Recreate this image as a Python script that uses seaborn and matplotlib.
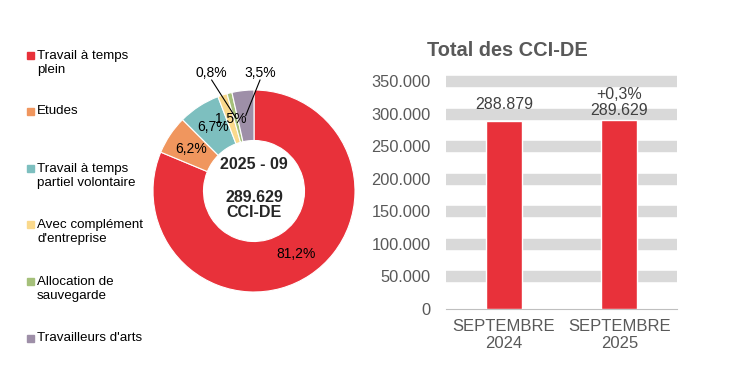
import matplotlib
matplotlib.use("Agg")
import matplotlib.pyplot as plt
import seaborn as sns
import pandas as pd
import numpy as np

# ---- data ----
categories = ["Travail à temps\nplein", "Etudes", "Travail à temps\npartiel volontaire",
              "Avec complément\nd'entreprise", "Allocation de\nsauvegarde", "Travailleurs d'arts"]
shares = [81.2, 6.2, 6.7, 1.5, 0.8, 3.5]
share_labels = ["81,2%", "6,2%", "6,7%", "1,5%", "0,8%", "3,5%"]
colors = ["#E8313A", "#F0965E", "#7DBFBF", "#FAD98C", "#A5C07A", "#9E8FA8"]
center_title = "2025 - 09"
center_total = "289.629\nCCI-DE"

periods = ["SEPTEMBRE\n2024", "SEPTEMBRE\n2025"]
totals = [288879, 289629]
total_labels = ["288.879", "+0,3%\n289.629"]
y_ticks = [0, 50000, 100000, 150000, 200000, 250000, 300000, 350000]
y_tick_labels = ["0", "50.000", "100.000", "150.000", "200.000", "250.000", "300.000", "350.000"]

sns.set_theme(style="white")
plt.rcParams['font.family'] = ['Liberation Sans', 'DejaVu Sans']

W, H = 737, 387
fig = plt.figure(figsize=(W / 100, H / 100), dpi=100)
fig.patch.set_facecolor("white")

# ---- donut ----
cx, cy, r = 254, 191, 101
ax_p = fig.add_axes([(cx - r) / W, (H - cy - r) / H, 2 * r / W, 2 * r / H])
wedges, _ = ax_p.pie(shares, colors=colors, startangle=90, counterclock=False,
                     radius=1.0, wedgeprops=dict(width=0.5, edgecolor="white", linewidth=0.8))
ax_p.set_xlim(-1, 1)
ax_p.set_ylim(-1, 1)
ax_p.set_aspect("equal")
ax_p.axis("off")

inside = [0, 1, 2, 3]
outside_text = {4: (-0.42, 1.17), 5: (0.06, 1.17)}
for i, w in enumerate(wedges):
    ang = np.deg2rad((w.theta1 + w.theta2) / 2)
    px, py = 0.75 * np.cos(ang), 0.75 * np.sin(ang)
    if i in inside:
        ax_p.text(px, py, share_labels[i], ha="center", va="center", fontsize=10, color="#000000")
    else:
        tx, ty = outside_text[i]
        ax_p.text(tx, ty, share_labels[i], ha="center", va="center", fontsize=10,
                  color="#000000", clip_on=False)
        ax_p.plot([tx, px], [ty - 0.07, py], color="black", lw=0.8, clip_on=False)

ax_p.text(0, 0.267, center_title, ha="center", va="center", fontsize=11.5, fontweight="bold")
ax_p.text(0, -0.14, center_total, ha="center", va="center", fontsize=11.5, fontweight="bold",
          linespacing=1.05)

# ---- legend ----
leg_y = [55, 111, 168, 224, 281, 338]
for lab, col, y in zip(categories, colors, leg_y):
    n = lab.count("\n") + 1
    fig.patches.append(plt.Rectangle((27 / W, (H - y - 3.5) / H), 7 / W, 7 / H,
                                     transform=fig.transFigure, color=col, figure=fig))
    yc = y + (n - 1) * 15.5 / 2
    fig.text(37 / W, (H - yc) / H, lab, ha="left", va="center", fontsize=9.6,
             color="#000000", linespacing=1.18)

# ---- bar chart ----
left, right, y0, y350 = 446, 677, 309, 81
ymax = 360000
ppu = (y0 - y350) / 350000
top = y0 - ymax * ppu
ax_b = fig.add_axes([left / W, (H - y0) / H, (right - left) / W, (y0 - top) / H])
df = pd.DataFrame({"period": periods, "total": totals})
for t in y_ticks[1:]:
    ax_b.axhline(t, color="#D9D9D9", lw=8.2, zorder=0)
sns.barplot(data=df, x="period", y="total", color="#E8313A", width=0.31,
            saturation=1, ax=ax_b, zorder=3)
ax_b.set_ylim(0, ymax)
ax_b.set_xlim(-0.5, 1.5)
ax_b.set_yticks(y_ticks)
ax_b.set_yticklabels(y_tick_labels)
ax_b.set_xlabel("")
ax_b.set_ylabel("")
ax_b.tick_params(axis="y", length=0, pad=11, labelsize=11.8, labelcolor="#595959")
ax_b.tick_params(axis="x", length=0, pad=7.5, labelsize=12, labelcolor="#595959")
for lbl in ax_b.get_xticklabels():
    lbl.set_linespacing(1.15)
for s in ["top", "right", "left"]:
    ax_b.spines[s].set_visible(False)
ax_b.spines["bottom"].set_color("#BFBFBF")
ax_b.spines["bottom"].set_linewidth(0.8)
ax_b.set_facecolor("none")

offsets = [6, 1.5]
for i, (v, lab) in enumerate(zip(totals, total_labels)):
    ax_b.annotate(lab, (i, v), xytext=(0, offsets[i]), textcoords="offset points",
                  ha="center", va="bottom", fontsize=11.5, color="#404040", linespacing=1.1)

fig.text(507 / W, (H - 50) / H, "Total des CCI-DE", ha="center", va="center",
         fontsize=14.4, fontweight="bold", color="#595959")

fig.savefig("out.png", dpi=100, facecolor="white")
